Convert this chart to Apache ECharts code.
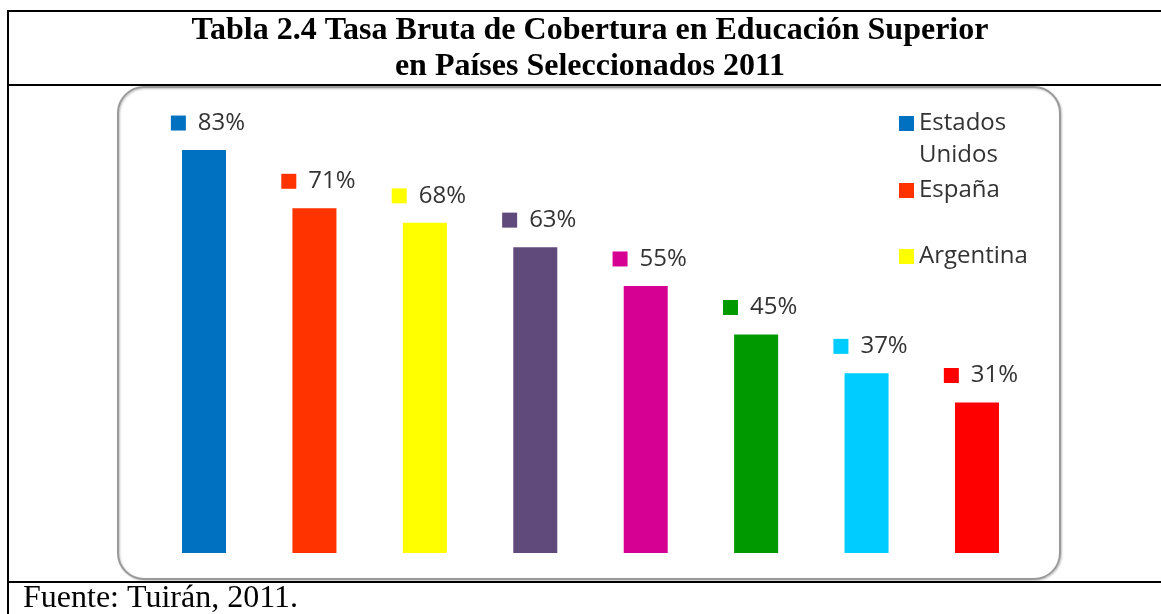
<!DOCTYPE html>
<html>
<head>
<meta charset="utf-8">
<script src="https://cdn.jsdelivr.net/npm/echarts@6/dist/echarts.min.js"></script>
<style>
  html, body { margin: 0; padding: 0; background: #fff; }
  #chart { width: 1161px; height: 614px; }
</style>
</head>
<body>
<div id="chart"></div>
<script>
var categories = ['Estados Unidos', 'España', 'Argentina', 'Chile', 'Venezuela', 'Colombia', 'Brasil', 'México'];
var values = [83, 71, 68, 63, 55, 45, 37, 31];
var colors = ['#0070C0', '#FF3300', '#FFFF00', '#604A7B', '#D60093', '#009900', '#00CCFF', '#FF0000'];
var legendNames = ['Estados Unidos', 'España', 'Argentina'];
var legendTops = [75.5, 174.5, 240.5];

var myChart = echarts.init(document.getElementById('chart'));

// one series per country so the legend gets the colours
var series = categories.map(function(name, i) {
    return {
        name: name,
        type: 'bar',
        barWidth: 44,
        barGap: '-100%',
        data: values.map(function(v, j) { return j === i ? v : null; }),
        itemStyle: { color: colors[i] },
        label: {
            show: true,
            position: 'top',
            distance: 15,
            offset: [4, 0],
            formatter: '{sq|}{v|{c}%}',
            rich: {
                sq: { width: 15, height: 15, backgroundColor: colors[i] },
                v: { fontFamily: 'Open Sans', fontSize: 24, lineHeight: 24, color: '#333', padding: [0, 0, 0, 12] }
            }
        }
    };
});

var legends = legendNames.map(function(name, i) {
    return {
        data: [name],
        orient: 'vertical',
        left: 899,
        top: legendTops[i],
        padding: 0,
        icon: 'rect',
        itemWidth: 15,
        itemHeight: 15,
        itemGap: 0,
        selectedMode: false,
        // two-word names wrap; a blank first line keeps the square on the first word
        formatter: function(n) { return n.indexOf(' ') > 0 ? ' \n' + n.replace(' ', '\n') : n; },
        textStyle: {
            fontFamily: 'Open Sans',
            fontSize: 24,
            lineHeight: 32,
            color: '#333'
        }
    };
});

var option = {
    backgroundColor: '#fff',
    animation: false,
    title: [
        {
            text: 'Tabla 2.4 Tasa Bruta de Cobertura en Educación Superior\nen Países Seleccionados 2011',
            left: 590,
            top: 12.5,
            textAlign: 'center',
            padding: 0,
            textStyle: { fontFamily: 'Liberation Serif', fontWeight: 'bold', fontSize: 32, lineHeight: 36, color: '#000' }
        },
        {
            text: 'Fuente: Tuirán, 2011.',
            left: 23,
            top: 583,
            padding: 0,
            textStyle: { fontFamily: 'Liberation Serif', fontWeight: 'normal', fontSize: 32, lineHeight: 31, color: '#000' }
        }
    ],
    legend: legends,
    grid: { left: 148.8, right: 128.8, top: 67.5, bottom: 61 },
    xAxis: {
        type: 'category',
        data: categories,
        show: false
    },
    yAxis: {
        type: 'value',
        min: 0,
        max: 100,
        show: false
    },
    graphic: [
        { type: 'line', shape: { x1: 7, y1: 11, x2: 1170, y2: 11 }, style: { stroke: '#000', lineWidth: 2 } },
        { type: 'line', shape: { x1: 8, y1: 10, x2: 8, y2: 620 }, style: { stroke: '#000', lineWidth: 2 } },
        { type: 'line', shape: { x1: 7, y1: 85, x2: 1170, y2: 85 }, style: { stroke: '#000', lineWidth: 2 } },
        { type: 'line', shape: { x1: 7, y1: 582, x2: 1170, y2: 582 }, style: { stroke: '#000', lineWidth: 2 } },
        {
            type: 'rect',
            shape: { x: 118, y: 87, width: 942, height: 492, r: 26 },
            style: { fill: 'none', stroke: '#9a9a9a', lineWidth: 2, shadowBlur: 2, shadowColor: 'rgba(0,0,0,0.25)', shadowOffsetX: 1, shadowOffsetY: 1 }
        }
    ],
    series: series
};

myChart.setOption(option);
</script>
</body>
</html>
